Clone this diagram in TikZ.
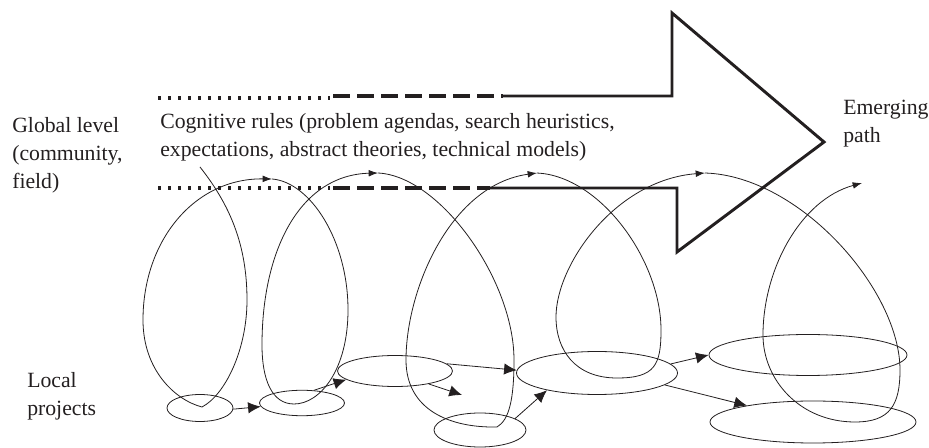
\documentclass[tikz,border=0pt]{standalone}
\usepackage{fontspec}
\setmainfont{Liberation Serif}
\usetikzlibrary{arrows.meta,shapes.geometric}

\definecolor{inkblack}{RGB}{35,31,32}

\tikzset{
  project/.style={draw=inkblack, ellipse, inner sep=0pt, line width=0.6pt},
  flow/.style={draw=inkblack, line width=0.6pt, -{Latex[length=9.5pt,width=8.5pt]}},
  spiral/.style={draw=inkblack, line width=0.6pt, -{Latex[length=7pt,width=5pt]}},
  pathdots/.style={draw=inkblack, line width=2.6pt, dash pattern=on 2.6pt off 4.9pt},
  pathdash/.style={draw=inkblack, line width=3pt, dash pattern=on 12.75pt off 5.25pt},
  pathline/.style={draw=inkblack, line width=2.2pt, line join=miter},
  leveltext/.style={text=inkblack, font=\fontsize{16.3}{21}\selectfont}
}

\begin{document}
\begin{tikzpicture}[x=0.75pt,y=0.75pt,yscale=-1,xscale=1]
\useasboundingbox (0,0) rectangle (929,448);

%Big arrow: dotted, then dashed, then solid
\draw [pathdots] (158,98) -- (330,98) ;
\draw [pathdash] (333,96) -- (503,96) ;
\draw [pathdots] (158,188) -- (330,188) ;
\draw [pathdash] (333,188) -- (490,188) ;
\draw [pathline] (503,96) -- (672,96) -- (672,13) -- (824,142) -- (677,252) -- (677,188) -- (488,188) ;

%Local projects
\node [project, minimum width=49.5pt, minimum height=20.25pt] (proj1) at (200,408) {};
\node [project, minimum width=63.75pt, minimum height=19.1pt] (proj2) at (302,403) {};
\node [project, minimum width=86.25pt, minimum height=23.25pt] (proj3) at (395,371) {};
\node [project, minimum width=69pt, minimum height=25.5pt] (proj4) at (480,430) {};
\node [project, minimum width=120.75pt, minimum height=32.25pt] (proj5) at (597,373) {};
\node [project, minimum width=148.5pt, minimum height=30.75pt] (proj6) at (808,355) {};
\node [project, minimum width=154.5pt, minimum height=31.5pt] (proj7) at (813,422) {};
\coordinate (tip34) at (462,395);

%Links between projects
\draw [flow] (proj1.358) -- (proj2.185) ;
\draw [flow] (proj2.47) -- (proj3.190) ;
\draw [flow] (proj3.339) -- (tip34) ;
\draw [flow] (proj3.8) -- (proj5.178) ;
\draw [flow] (proj4.18) -- (proj5.199) ;
\draw [flow] (proj5.7) -- (proj6.west) ;
\draw [flow] (proj5.350) -- (proj7.166) ;

%Spiral between the two levels
\coordinate (start) at (200,167);
\coordinate (turn1) at (272,179);
\coordinate (turn2) at (378,173);
\coordinate (turn3) at (537,173);
\coordinate (turn4) at (705,173);
\coordinate (finish) at (862,183);
\draw [spiral] (start) .. controls (230,205) and (247,245) .. (247,300) .. controls (247,350) and (225,395) .. (202,407) .. controls (175,400) and (143,370) .. (143,320) .. controls (143,240) and (195,178) .. (turn1) ;
\draw [spiral] (turn1) .. controls (310,182) and (348,240) .. (348,310) .. controls (348,370) and (320,404) .. (294,404) .. controls (272,404) and (262,380) .. (262,345) .. controls (262,250) and (300,175) .. (turn2) ;
\draw [spiral] (turn2) .. controls (440,176) and (514,280) .. (514,360) .. controls (514,400) and (509,420) .. (497,427) .. controls (450,428) and (406,410) .. (406,360) .. controls (406,290) and (450,185) .. (turn3) ;
\draw [spiral] (turn3) .. controls (600,176) and (661,260) .. (661,330) .. controls (661,365) and (655,378) .. (617,378) .. controls (575,378) and (556,350) .. (556,317) .. controls (556,265) and (615,180) .. (turn4) ;
\draw [spiral] (turn4) .. controls (800,176) and (900,290) .. (900,370) .. controls (900,405) and (890,422) .. (855,422) .. controls (800,422) and (763,380) .. (763,335) .. controls (763,270) and (800,200) .. (finish) ;

% Text Node
\draw (11,116) node [anchor=north west][inner sep=0.75pt] [align=left,leveltext] (global) {Global level\\(community,\\field)};
% Text Node
\draw (159,112) node [anchor=north west][inner sep=0.75pt] [align=left,leveltext] (rules) {Cognitive rules (problem agendas, search heuristics,\\expectations, abstract theories, technical models)};
% Text Node
\draw (26,371) node [anchor=north west][inner sep=0.75pt] [align=left,leveltext] (local) {Local\\projects};
% Text Node
\draw (842,99) node [anchor=north west][inner sep=0.75pt] [align=left,leveltext] (emerging) {Emerging\\path};

\end{tikzpicture}
\end{document}
